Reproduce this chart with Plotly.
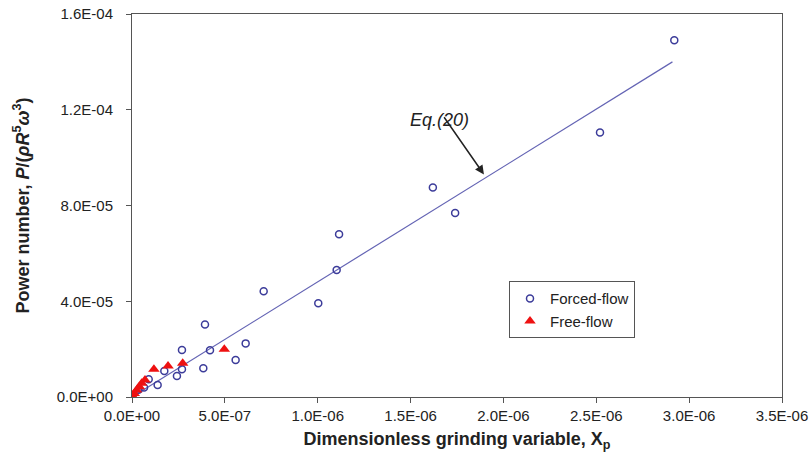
import plotly.graph_objects as go

# Forced-flow (open circles)
forced_x = [2.92e-6, 2.52e-6, 1.74e-6, 1.62e-6, 1.115e-6, 1.102e-6, 1.003e-6, 0.709e-6,
            0.612e-6, 0.558e-6, 0.42e-6, 0.393e-6, 0.384e-6, 0.269e-6, 0.269e-6, 0.242e-6,
            0.174e-6, 0.138e-6, 0.09e-6, 0.065e-6, 0.035e-6]
forced_y = [14.9e-5, 11.05e-5, 7.69e-5, 8.75e-5, 6.8e-5, 5.31e-5, 3.92e-5, 4.42e-5,
            2.24e-5, 1.55e-5, 1.95e-5, 3.03e-5, 1.2e-5, 1.96e-5, 1.16e-5, 0.88e-5,
            1.09e-5, 0.5e-5, 0.74e-5, 0.4e-5, 0.3e-5]

# Free-flow (red triangles)
free_x = [0.497e-6, 0.273e-6, 0.194e-6, 0.118e-6, 0.07e-6, 0.052e-6, 0.04e-6, 0.025e-6, 0.012e-6, 0.004e-6]
free_y = [2.0e-5, 1.41e-5, 1.3e-5, 1.16e-5, 0.71e-5, 0.57e-5, 0.43e-5, 0.29e-5, 0.15e-5, 0.04e-5]

# Eq.(20) line
eq_x = [0.0, 2.91e-6]
eq_y = [0.0, 1.40e-4]

x_ticks = [0, 5e-7, 1e-6, 1.5e-6, 2e-6, 2.5e-6, 3e-6, 3.5e-6]
x_labels = ["0.0E+00", "5.0E-07", "1.0E-06", "1.5E-06", "2.0E-06", "2.5E-06", "3.0E-06", "3.5E-06"]
y_ticks = [0, 4e-5, 8e-5, 1.2e-4, 1.6e-4]
y_labels = ["0.0E+00", "4.0E-05", "8.0E-05", "1.2E-04", "1.6E-04"]

FONT = "Liberation Sans, Arial, sans-serif"

fig = go.Figure()
fig.add_trace(go.Scatter(x=eq_x, y=eq_y, mode="lines", line=dict(color="#6464b4", width=1.2),
                         showlegend=False, hoverinfo="skip"))
fig.add_trace(go.Scatter(x=forced_x, y=forced_y, mode="markers", name="Forced-flow",
                         marker=dict(symbol="circle-open", size=7, color="#3c3c9a",
                                     line=dict(width=1.5, color="#3c3c9a"))))
fig.add_trace(go.Scatter(x=free_x, y=free_y, mode="markers", name="Free-flow",
                         marker=dict(symbol="triangle-up", size=10, color="#ee1111")))

fig.add_annotation(x=1.895e-6, y=9.3e-5, ax=1.675e-6, ay=11.75e-5, axref="x", ayref="y",
                   xref="x", yref="y", showarrow=True, arrowhead=2, arrowsize=1.2,
                   arrowwidth=1.5, arrowcolor="#222222", text="")
fig.add_annotation(x=1.655e-6, y=11.05e-5, xref="x", yref="y", text="<i>Eq.(20)</i>",
                   showarrow=False, font=dict(size=18, color="#222222", family=FONT),
                   xanchor="center", yanchor="bottom")

fig.update_layout(
    width=812, height=468,
    margin=dict(l=132, r=30, t=14, b=71),
    paper_bgcolor="white", plot_bgcolor="white",
    font=dict(family=FONT, size=15, color="#222222"),
    legend=dict(x=0.58, y=0.302, xanchor="left", yanchor="top",
                bordercolor="#555555", borderwidth=1, bgcolor="white",
                font=dict(size=15, family=FONT), itemwidth=30, tracegroupgap=0),
    xaxis=dict(range=[0, 3.5e-6], tickvals=x_ticks, ticktext=x_labels, automargin=False,
               showgrid=False, zeroline=False, showline=True, linecolor="#555555",
               linewidth=1, mirror=True, ticks="outside", ticklen=5, tickcolor="#555555",
               tickfont=dict(size=15),
               title=dict(text="<b>Dimensionless grinding variable, X<sub>p</sub></b>",
                          font=dict(size=18), standoff=9)),
    yaxis=dict(range=[0, 1.6e-4], tickvals=y_ticks, ticktext=y_labels, automargin=False,
               showgrid=False, zeroline=False, showline=True, linecolor="#555555",
               linewidth=1, mirror=True, ticks="outside", ticklen=5, tickcolor="#555555",
               tickfont=dict(size=15), ticklabelstandoff=10,
               title=dict(text="<b>Power number, <i>P</i>/(<i>ρR</i><sup>5</sup><i>ω</i><sup>3</sup>)</b>",
                          font=dict(size=18), standoff=22)),
)

fig.write_html("out.html", config={"displayModeBar": False},
               post_script="document.body.style.margin='0';")
